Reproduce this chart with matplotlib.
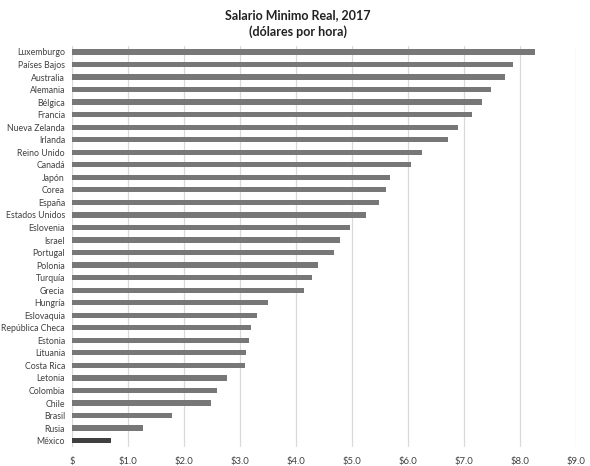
import matplotlib
matplotlib.use("Agg")
import matplotlib.pyplot as plt

# Salario minimo real 2017, dolares por hora
paises = ["Luxemburgo", "Países Bajos", "Australia", "Alemania", "Bélgica", "Francia",
          "Nueva Zelanda", "Irlanda", "Reino Unido", "Canadá", "Japón", "Corea",
          "España", "Estados Unidos", "Eslovenia", "Israel", "Portugal", "Polonia",
          "Turquía", "Grecia", "Hungría", "Eslovaquia", "República Checa", "Estonia",
          "Lituania", "Costa Rica", "Letonia", "Colombia", "Chile", "Brasil", "Rusia",
          "México"]
salarios = [8.27, 7.87, 7.73, 7.49, 7.33, 7.14, 6.90, 6.71, 6.26, 6.05, 5.68, 5.61,
            5.48, 5.25, 4.96, 4.79, 4.68, 4.40, 4.29, 4.14, 3.50, 3.31, 3.19, 3.16,
            3.10, 3.09, 2.77, 2.59, 2.48, 1.78, 1.26, 0.70]
ticks_x = [0, 1, 2, 3, 4, 5, 6, 7, 8, 9]
ticks_lbl = ["$", "$1.0", "$2.0", "$3.0", "$4.0", "$5.0", "$6.0", "$7.0", "$8.0", "$9.0"]
destacado = "México"

plt.rcParams['font.family'] = ['Lato', 'DejaVu Sans']

fig = plt.figure(figsize=(5.9, 4.66), dpi=100)
ax = fig.add_axes([0.122, 0.041, 0.854, 0.861])

colores = ["#404040" if p == destacado else "#777777" for p in paises]
pos = list(range(len(paises)))
ax.barh(pos, salarios, height=0.42, color=colores, zorder=3)

ax.set_ylim(len(paises) - 0.5, -0.5)
ax.set_xlim(0, 9)
ax.set_yticks(pos)
ax.set_yticklabels(paises, fontsize=6.3, color="#404040")
ax.set_xticks(ticks_x)
ax.set_xticklabels(ticks_lbl, fontsize=6.8, color="#404040")
ax.tick_params(axis="both", length=0)
ax.tick_params(axis="x", pad=7)
ax.tick_params(axis="y", pad=5)
ax.grid(axis="x", color="#d9d9d9", linewidth=0.9, zorder=0)
for s in ax.spines.values():
    s.set_visible(False)

fig.text(0.505, 0.968, "Salario Minimo Real, 2017", ha="center", va="center",
         fontsize=9, fontweight="bold", color="#222222")
fig.text(0.505, 0.933, "(dólares por hora)", ha="center", va="center",
         fontsize=9, fontweight="bold", color="#222222")

fig.savefig("out.png", dpi=100)
